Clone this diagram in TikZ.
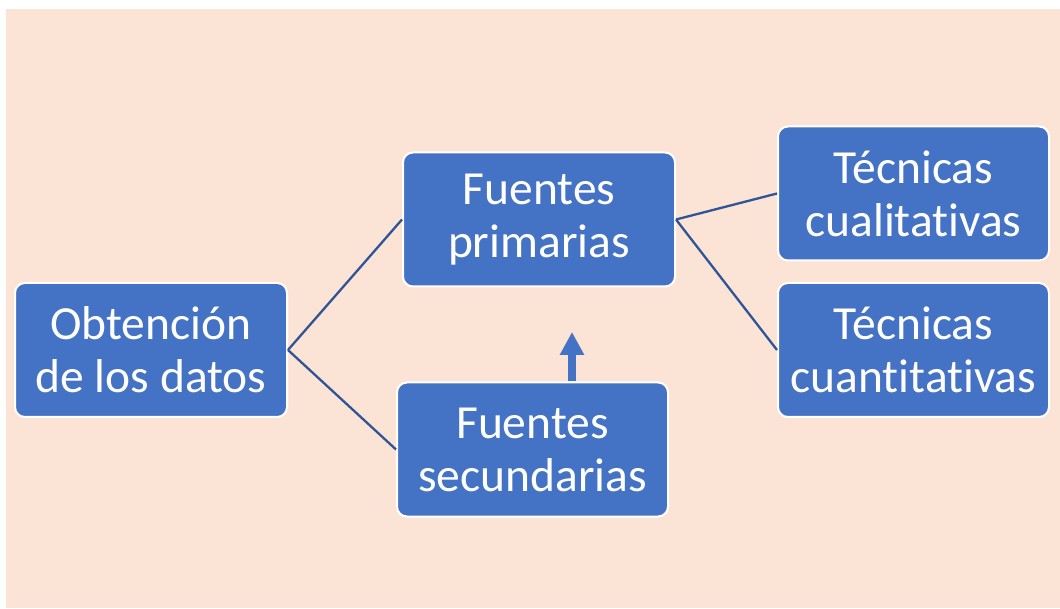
\documentclass[tikz,border=0pt]{standalone}
\usepackage{fontspec}
\setmainfont{Carlito}[Ligatures={NoCommon}]
\usetikzlibrary{arrows.meta}
\definecolor{bgpeach}{HTML}{FBE4D6}
\definecolor{boxblue}{HTML}{4472C4}
\definecolor{lineblue}{HTML}{2F5597}
\tikzset{
  box/.style={draw=white, line width=2pt, fill=boxblue, rounded corners=10pt,
    minimum width=#1, minimum height=134pt, inner sep=0pt, text=white,
    font=\fontsize{47.5}{53}\selectfont, align=center},
  link/.style={draw=lineblue, line width=2.3pt},
}
\begin{document}
\begin{tikzpicture}[x=1pt,y=1pt]
\useasboundingbox (0,0) rectangle (1060,608);
\fill[white] (0,0) rectangle (1060,608);
\fill[bgpeach] (6,0) rectangle (1060,599);
\node[box=272pt] (obt) at (151,258) {Obtención\\de los datos};
\node[box=272pt] (pri) at (539,388.5) {Fuentes\\primarias};
\node[box=271pt] (sec) at (532.5,158.5) {Fuentes\\secundarias};
\node[box=271pt] (cual) at (913.5,414.5) {Técnicas\\cualitativas};
\node[box=271pt] (cuan) at (913.5,258) {Técnicas\\cuantitativas};
\draw[link] (obt.east) -- (pri.west);
\draw[link] (obt.east) -- (sec.west);
\draw[link] (pri.east) -- (cual.west);
\draw[link] (pri.east) -- (cuan.west);
\coordinate (tip) at (572,276);
\draw[boxblue, line width=8pt, -{Triangle[width=23pt,length=23pt]}] (sec.north -| tip) -- (tip);
\end{tikzpicture}
\end{document}
